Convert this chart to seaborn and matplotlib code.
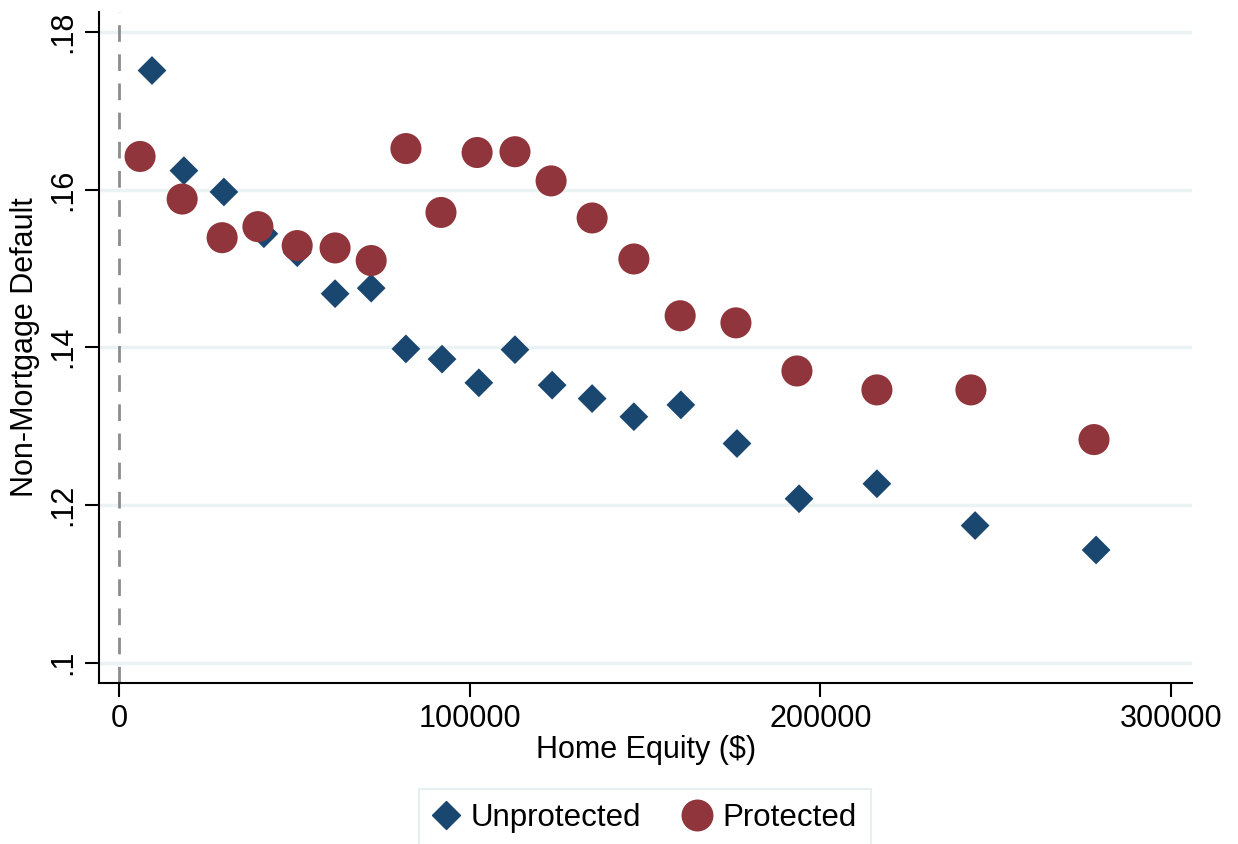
import matplotlib
matplotlib.use("Agg")
import matplotlib.pyplot as plt
import seaborn as sns
import pandas as pd
from matplotlib.lines import Line2D

unprot_x = [9400, 18500, 29900, 41300, 50800, 61600, 71900, 81800, 92100, 102600,
            112900, 123500, 134900, 146800, 160200, 176200, 193900, 216100, 244100, 278600]
unprot_y = [0.1751, 0.1624, 0.1597, 0.1544, 0.1520, 0.1468, 0.1475, 0.1398, 0.1385, 0.1355,
            0.1397, 0.1352, 0.1335, 0.1312, 0.1327, 0.1278, 0.1208, 0.1227, 0.1174, 0.1143]
prot_x = [6000, 18000, 29400, 39600, 50800, 61600, 71900, 81800, 91800, 102100,
          112900, 123200, 134900, 146800, 160000, 175900, 193300, 216100, 242900, 278000]
prot_y = [0.1642, 0.1588, 0.1539, 0.1553, 0.1529, 0.1526, 0.1510, 0.1652, 0.1571, 0.1647,
          0.1648, 0.1611, 0.1564, 0.1512, 0.1440, 0.1431, 0.1370, 0.1346, 0.1346, 0.1283]
yticks = [0.10, 0.12, 0.14, 0.16, 0.18]
ytick_labels = [".1", ".12", ".14", ".16", ".18"]
xticks = [0, 100000, 200000, 300000]
xtick_labels = ["0", "100000", "200000", "300000"]

sns.set_theme(style="white")
plt.rcParams['font.family'] = ['Liberation Sans', 'DejaVu Sans']
plt.rcParams.update({"text.color": "black", "axes.labelcolor": "black",
                     "xtick.color": "black", "ytick.color": "black"})

navy = "#1a476f"
maroon = "#90353b"

df = pd.concat([
    pd.DataFrame({"x": unprot_x, "y": unprot_y, "g": "Unprotected"}),
    pd.DataFrame({"x": prot_x, "y": prot_y, "g": "Protected"}),
])

fig = plt.figure(figsize=(12.38, 8.44), dpi=100)
ax = fig.add_axes([0.080, 0.191, 0.883, 0.795])

for y in yticks:
    ax.axhline(y, color="#eaf2f3", lw=2.5, zorder=0)
ax.axvline(0, color="#8c8c8c", lw=2, ls=(0, (6, 4.5)), zorder=1)

sns.scatterplot(data=df[df.g == "Unprotected"], x="x", y="y", marker="D", s=215,
                color=navy, edgecolor="none", ax=ax, zorder=3, legend=False)
sns.scatterplot(data=df[df.g == "Protected"], x="x", y="y", marker="o", s=500,
                color=maroon, edgecolor="none", ax=ax, zorder=4, legend=False)

ax.set_xlim(-5700, 306000)
ax.set_ylim(0.09746, 0.18254)
ax.set_xticks(xticks)
ax.set_xticklabels(xtick_labels, fontsize=22)
ax.set_yticks(yticks)
ax.set_yticklabels(ytick_labels, fontsize=22, rotation=90, va="center")
ax.tick_params(axis="both", direction="out", length=10, width=1.5, color="black",
               labelcolor="black", bottom=True, left=True, pad=5)
for side in ["top", "right"]:
    ax.spines[side].set_visible(False)
for side in ["left", "bottom"]:
    ax.spines[side].set_color("black")
    ax.spines[side].set_linewidth(1.5)

ax.set_xlabel("Home Equity ($)", fontsize=22, labelpad=1, color="black")
ax.set_ylabel("Non-Mortgage Default", fontsize=22, labelpad=6, color="black")

handles = [
    Line2D([], [], marker="D", color=navy, ls="none", markersize=14),
    Line2D([], [], marker="o", color=maroon, ls="none", markersize=22),
]
leg = fig.legend(handles, ["Unprotected", "Protected"], loc="lower center",
                 bbox_to_anchor=(0.521, -0.0146), ncol=2, fontsize=22.5, frameon=True,
                 fancybox=False, edgecolor="#e3ecee", handletextpad=0.4,
                 columnspacing=1.4, borderpad=0.45, borderaxespad=0.3, handlelength=0.8)
leg.get_frame().set_linewidth(1.5)
for t in leg.get_texts():
    t.set_color("black")

fig.savefig("out.png", dpi=100, facecolor="white")
